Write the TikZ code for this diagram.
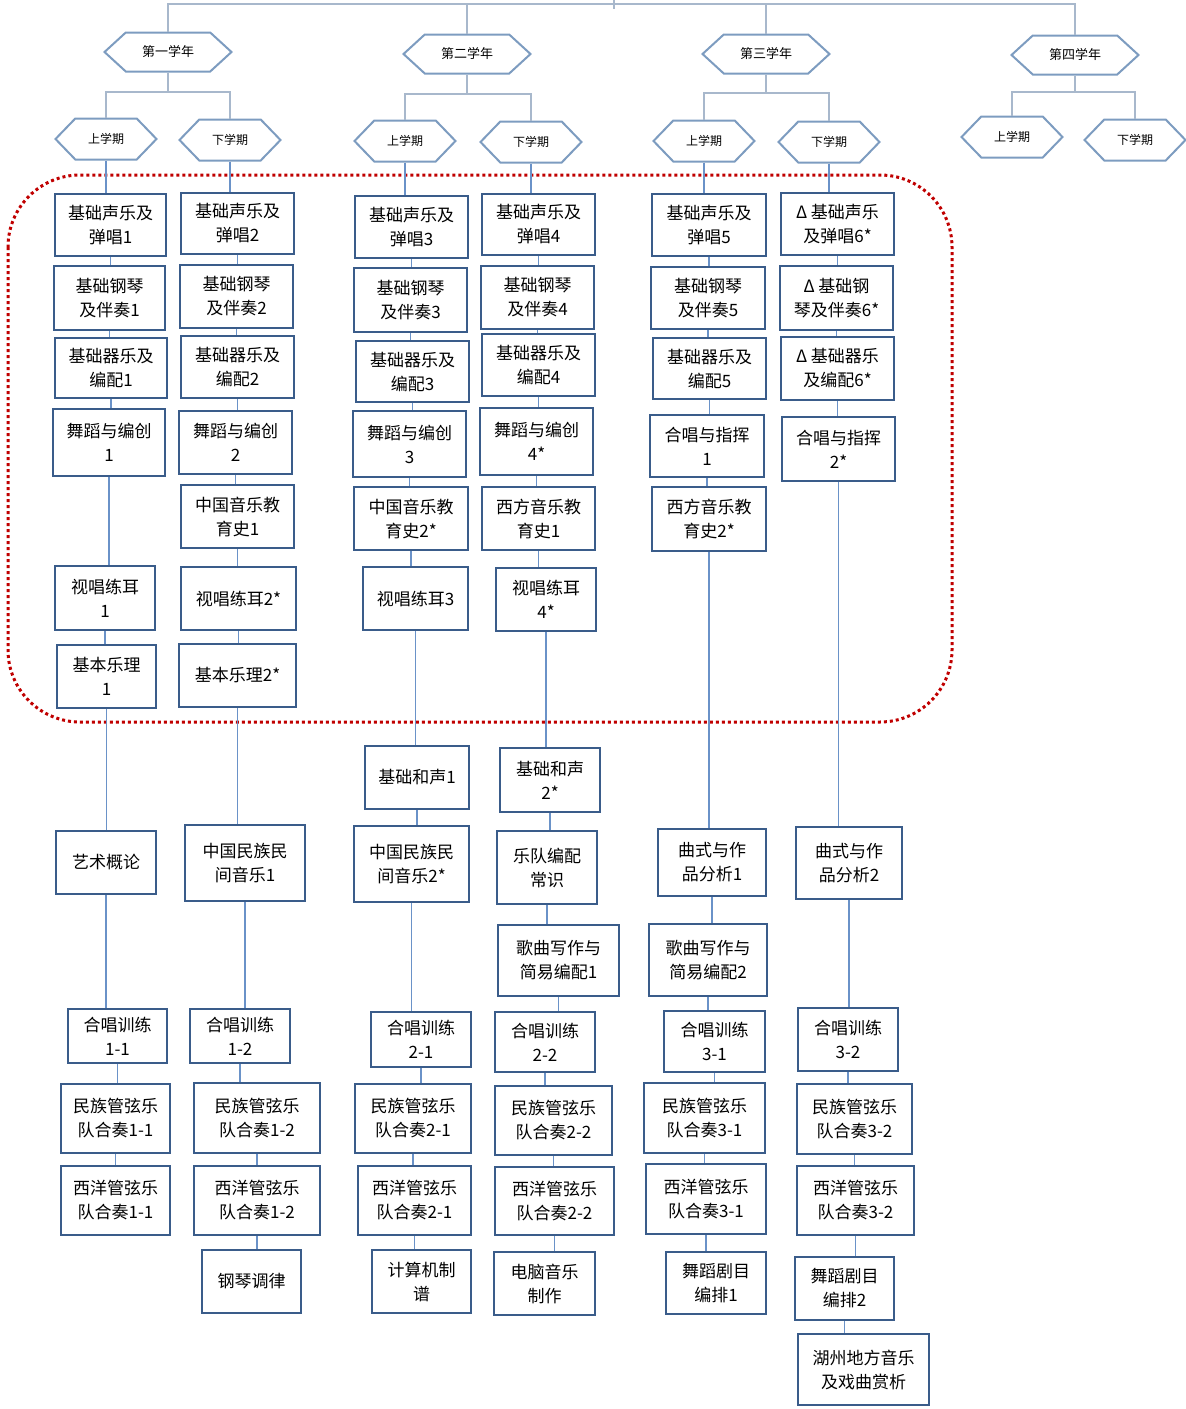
\documentclass[tikz,border=0pt]{standalone}
\usepackage{fontspec}
\setmainfont{Noto Sans CJK SC}
\usetikzlibrary{shapes.symbols}
\definecolor{boxblue}{HTML}{3A5C8A}
\definecolor{hexblue}{HTML}{7D9CC0}
\definecolor{treegray}{HTML}{A8B8CC}
\definecolor{linkblue}{HTML}{6A92C8}
\definecolor{dotred}{HTML}{C00000}
\begin{document}
\begin{tikzpicture}[x=1pt,y=-1pt]
\tikzstyle{every node}+=[inner sep=0pt]
\tikzstyle{course}=[draw=boxblue, line width=2.9pt, fill=white, align=center, font=\fontsize{17}{24}\selectfont]
\tikzstyle{yearhex}=[signal, signal to=east and west, signal pointer angle=85, draw=hexblue, line width=2pt, fill=white, minimum width=127pt, minimum height=39pt, font=\fontsize{13}{15}\selectfont]
\tikzstyle{semhex}=[signal, signal to=east and west, signal pointer angle=92, draw=hexblue, line width=2pt, fill=white, minimum width=101pt, minimum height=41pt, font=\fontsize{12}{14}\selectfont]
\tikzstyle{tree}=[draw=treegray, line width=1.6pt]
\tikzstyle{link}=[draw=linkblue, line width=1.3pt]
\tikzset{wh/.style 2 args={minimum width=#1pt, minimum height=#2pt}}
\useasboundingbox (0,0) rectangle (1186,1409);
\draw [dotred, line width=3pt, dash pattern=on 3pt off 3pt, rounded corners=72pt] (8,175) rectangle (952,722);
\draw (168,52) node[yearhex] (y1) {第一学年};
\draw (467,54) node[yearhex] (y2) {第二学年};
\draw (766,54) node[yearhex] (y3) {第三学年};
\draw (1075,55) node[yearhex] (y4) {第四学年};
\draw (106,139) node[semhex] (s11) {上学期};
\draw (230,140) node[semhex] (s12) {下学期};
\draw (405,141) node[semhex] (s21) {上学期};
\draw (531,142) node[semhex] (s22) {下学期};
\draw (704,141) node[semhex] (s31) {上学期};
\draw (829,142) node[semhex] (s32) {下学期};
\draw (1012,137) node[semhex] (s41) {上学期};
\draw (1135,140) node[semhex] (s42) {下学期};
\coordinate (root) at (614,0);
\coordinate (top) at (614,4);
\coordinate (j1) at (168,92);
\coordinate (j2) at (467,94);
\coordinate (j3) at (766,93);
\coordinate (j4) at (1075,92);
\draw [tree] (root) -- ++(0,9);
\draw [tree] (y1.north) |- (top) -| (y4.north);
\draw [tree] (top) -| (y2.north);
\draw [tree] (top) -| (y3.north);
\draw [tree] (y1.south) -- (j1);
\draw [tree] (y2.south) -- (j2);
\draw [tree] (y3.south) -- (j3);
\draw [tree] (y4.south) -- (j4);
\draw [tree] (s11.north) |- (j1) -| (s12.north);
\draw [tree] (s21.north) |- (j2) -| (s22.north);
\draw [tree] (s31.north) |- (j3) -| (s32.north);
\draw [tree] (s41.north) |- (j4) -| (s42.north);
\draw (110.5,225) node[course, wh={111}{62}] (c1a) {基础声乐及\\弹唱1};
\draw (109.5,298) node[course, wh={111}{64}] (c1b) {基础钢琴\\及伴奏1};
\draw (111,368) node[course, wh={112}{60}] (c1c) {基础器乐及\\编配1};
\draw (109,442.5) node[course, wh={112}{67}] (c1d) {舞蹈与编创\\1};
\draw (105,598) node[course, wh={100}{64}] (c1e) {视唱练耳\\1};
\draw (106.5,676.5) node[course, wh={99}{63}] (c1f) {基本乐理\\1};
\draw (106,862.5) node[course, wh={100}{63}] (c1g) {艺术概论};
\draw (117.5,1036) node[course, wh={99}{54}] (c1h) {合唱训练\\1-1};
\draw (115.5,1118.5) node[course, wh={109}{69}] (c1i) {民族管弦乐\\队合奏1-1};
\draw (115.5,1200.5) node[course, wh={109}{69}] (c1j) {西洋管弦乐\\队合奏1-1};
\draw (237.5,223.5) node[course, wh={113}{61}] (c2a) {基础声乐及\\弹唱2};
\draw (236.5,296.5) node[course, wh={113}{63}] (c2b) {基础钢琴\\及伴奏2};
\draw (237.5,367) node[course, wh={113}{62}] (c2c) {基础器乐及\\编配2};
\draw (235.5,442.5) node[course, wh={113}{63}] (c2d) {舞蹈与编创\\2};
\draw (237.5,516.5) node[course, wh={113}{63}] (c2e) {中国音乐教\\育史1};
\draw (238.5,598.5) node[course, wh={115}{63}] (c2f) {视唱练耳2*};
\draw (237.5,675.5) node[course, wh={117}{63}] (c2g) {基本乐理2*};
\draw (245,863) node[course, wh={120}{76}] (c2h) {中国民族民\\间音乐1};
\draw (240,1036) node[course, wh={100}{54}] (c2i) {合唱训练\\1-2};
\draw (257,1118) node[course, wh={126}{70}] (c2j) {民族管弦乐\\队合奏1-2};
\draw (257,1200.5) node[course, wh={126}{69}] (c2k) {西洋管弦乐\\队合奏1-2};
\draw (251.5,1281.5) node[course, wh={99}{63}] (c2l) {钢琴调律};
\draw (411.5,227) node[course, wh={113}{62}] (c3a) {基础声乐及\\弹唱3};
\draw (410.5,300) node[course, wh={113}{64}] (c3b) {基础钢琴\\及伴奏3};
\draw (412.5,371.5) node[course, wh={113}{61}] (c3c) {基础器乐及\\编配3};
\draw (409.5,444) node[course, wh={113}{66}] (c3d) {舞蹈与编创\\3};
\draw (411,518.5) node[course, wh={114}{63}] (c3e) {中国音乐教\\育史2*};
\draw (415.5,598.5) node[course, wh={105}{63}] (c3f) {视唱练耳3};
\draw (417,777.5) node[course, wh={104}{63}] (c3g) {基础和声1};
\draw (411.5,864) node[course, wh={115}{76}] (c3h) {中国民族民\\间音乐2*};
\draw (421,1039.5) node[course, wh={100}{55}] (c3i) {合唱训练\\2-1};
\draw (413,1118.5) node[course, wh={116}{69}] (c3j) {民族管弦乐\\队合奏2-1};
\draw (414.5,1200.5) node[course, wh={113}{69}] (c3k) {西洋管弦乐\\队合奏2-1};
\draw (421.5,1281.5) node[course, wh={99}{63}] (c3l) {计算机制\\谱};
\draw (538.5,224.5) node[course, wh={113}{61}] (c4a) {基础声乐及\\弹唱4};
\draw (537.5,297.5) node[course, wh={113}{63}] (c4b) {基础钢琴\\及伴奏4};
\draw (538.5,365) node[course, wh={113}{62}] (c4c) {基础器乐及\\编配4};
\draw (536.5,441.5) node[course, wh={113}{67}] (c4d) {舞蹈与编创\\4*};
\draw (538.5,518.5) node[course, wh={113}{63}] (c4e) {西方音乐教\\育史1};
\draw (546,599.5) node[course, wh={100}{63}] (c4f) {视唱练耳\\4*};
\draw (550,780) node[course, wh={100}{64}] (c4g) {基础和声\\2*};
\draw (547,867.5) node[course, wh={100}{73}] (c4h) {乐队编配\\常识};
\draw (558.5,960.5) node[course, wh={121}{71}] (c4i) {歌曲写作与\\简易编配1};
\draw (545,1042) node[course, wh={100}{60}] (c4j) {合唱训练\\2-2};
\draw (553.5,1120.5) node[course, wh={117}{69}] (c4k) {民族管弦乐\\队合奏2-2};
\draw (554.5,1201) node[course, wh={119}{68}] (c4l) {西洋管弦乐\\队合奏2-2};
\draw (544.5,1283.5) node[course, wh={101}{63}] (c4m) {电脑音乐\\制作};
\draw (709,225) node[course, wh={114}{62}] (c5a) {基础声乐及\\弹唱5};
\draw (708,298) node[course, wh={114}{62}] (c5b) {基础钢琴\\及伴奏5};
\draw (709.5,368.5) node[course, wh={113}{61}] (c5c) {基础器乐及\\编配5};
\draw (707,446) node[course, wh={114}{62}] (c5d) {合唱与指挥\\1};
\draw (709,519) node[course, wh={114}{64}] (c5e) {西方音乐教\\育史2*};
\draw (712,862.5) node[course, wh={108}{67}] (c5f) {曲式与作\\品分析1};
\draw (708,960) node[course, wh={118}{72}] (c5g) {歌曲写作与\\简易编配2};
\draw (714.5,1041.5) node[course, wh={101}{61}] (c5h) {合唱训练\\3-1};
\draw (704.5,1118) node[course, wh={121}{70}] (c5i) {民族管弦乐\\队合奏3-1};
\draw (706,1199) node[course, wh={120}{70}] (c5j) {西洋管弦乐\\队合奏3-1};
\draw (716,1283) node[course, wh={100}{62}] (c5k) {舞蹈剧目\\编排1};
\draw (837.5,224) node[course, wh={113}{62}] (c6a) {Δ 基础声乐\\及弹唱6*};
\draw (836.5,298) node[course, wh={113}{64}] (c6b) {Δ 基础钢\\琴及伴奏6*};
\draw (837.5,368.5) node[course, wh={113}{63}] (c6c) {Δ 基础器乐\\及编配6*};
\draw (838.5,449) node[course, wh={113}{64}] (c6d) {合唱与指挥\\2*};
\draw (849,863) node[course, wh={106}{72}] (c6e) {曲式与作\\品分析2};
\draw (848,1039.5) node[course, wh={100}{63}] (c6f) {合唱训练\\3-2};
\draw (854.5,1119) node[course, wh={115}{70}] (c6g) {民族管弦乐\\队合奏3-2};
\draw (855.5,1200.5) node[course, wh={117}{69}] (c6h) {西洋管弦乐\\队合奏3-2};
\draw (844.5,1288.5) node[course, wh={99}{63}] (c6i) {舞蹈剧目\\编排2};
\draw (863.5,1369.5) node[course, wh={131}{71}] (c6j) {湖州地方音乐\\及戏曲赏析};
\draw [link] (s11.south) -- (s11.south |- c1a.north);
\draw [link] (c1a.south) -- (c1a.south |- c1b.north);
\draw [link] (c1b.south) -- (c1b.south |- c1c.north);
\draw [link] (c1c.south) -- (c1c.south |- c1d.north);
\draw [link] (c1d.south) -- (c1d.south |- c1e.north);
\draw [link] (c1e.south) -- (c1e.south |- c1f.north);
\draw [link] (c1f.south) -- (c1f.south |- c1g.north);
\draw [link] (c1g.south) -- (c1g.south |- c1h.north);
\draw [link] (c1h.south) -- (c1h.south |- c1i.north);
\draw [link] (c1i.south) -- (c1i.south |- c1j.north);
\draw [link] (s12.south) -- (s12.south |- c2a.north);
\draw [link] (c2a.south) -- (c2a.south |- c2b.north);
\draw [link] (c2b.south) -- (c2b.south |- c2c.north);
\draw [link] (c2c.south) -- (c2c.south |- c2d.north);
\draw [link] (c2d.south) -- (c2d.south |- c2e.north);
\draw [link] (c2e.south) -- (c2e.south |- c2f.north);
\draw [link] (c2f.south) -- (c2f.south |- c2g.north);
\draw [link] (c2g.south) -- (c2g.south |- c2h.north);
\draw [link] (c2h.south) -- (c2h.south |- c2i.north);
\draw [link] (c2i.south) -- (c2i.south |- c2j.north);
\draw [link] (c2j.south) -- (c2j.south |- c2k.north);
\draw [link] (c2k.south) -- (c2k.south |- c2l.north);
\draw [link] (s21.south) -- (s21.south |- c3a.north);
\draw [link] (c3a.south) -- (c3a.south |- c3b.north);
\draw [link] (c3b.south) -- (c3b.south |- c3c.north);
\draw [link] (c3c.south) -- (c3c.south |- c3d.north);
\draw [link] (c3d.south) -- (c3d.south |- c3e.north);
\draw [link] (c3e.south) -- (c3e.south |- c3f.north);
\draw [link] (c3f.south) -- (c3f.south |- c3g.north);
\draw [link] (c3g.south) -- (c3g.south |- c3h.north);
\draw [link] (c3h.south) -- (c3h.south |- c3i.north);
\draw [link] (c3i.south) -- (c3i.south |- c3j.north);
\draw [link] (c3j.south) -- (c3j.south |- c3k.north);
\draw [link] (c3k.south) -- (c3k.south |- c3l.north);
\draw [link] (s22.south) -- (s22.south |- c4a.north);
\draw [link] (c4a.south) -- (c4a.south |- c4b.north);
\draw [link] (c4b.south) -- (c4b.south |- c4c.north);
\draw [link] (c4c.south) -- (c4c.south |- c4d.north);
\draw [link] (c4d.south) -- (c4d.south |- c4e.north);
\draw [link] (c4e.south) -- (c4e.south |- c4f.north);
\draw [link] (c4f.south) -- (c4f.south |- c4g.north);
\draw [link] (c4g.south) -- (c4g.south |- c4h.north);
\draw [link] (c4h.south) -- (c4h.south |- c4i.north);
\draw [link] (c4i.south) -- (c4i.south |- c4j.north);
\draw [link] (c4j.south) -- (c4j.south |- c4k.north);
\draw [link] (c4k.south) -- (c4k.south |- c4l.north);
\draw [link] (c4l.south) -- (c4l.south |- c4m.north);
\draw [link] (s31.south) -- (s31.south |- c5a.north);
\draw [link] (c5a.south) -- (c5a.south |- c5b.north);
\draw [link] (c5b.south) -- (c5b.south |- c5c.north);
\draw [link] (c5c.south) -- (c5c.south |- c5d.north);
\draw [link] (c5d.south) -- (c5d.south |- c5e.north);
\draw [link] (c5e.south) -- (c5e.south |- c5f.north);
\draw [link] (c5f.south) -- (c5f.south |- c5g.north);
\draw [link] (c5g.south) -- (c5g.south |- c5h.north);
\draw [link] (c5h.south) -- (c5h.south |- c5i.north);
\draw [link] (c5i.south) -- (c5i.south |- c5j.north);
\draw [link] (c5j.south) -- (c5j.south |- c5k.north);
\draw [link] (s32.south) -- (s32.south |- c6a.north);
\draw [link] (c6a.south) -- (c6a.south |- c6b.north);
\draw [link] (c6b.south) -- (c6b.south |- c6c.north);
\draw [link] (c6c.south) -- (c6c.south |- c6d.north);
\draw [link] (c6d.south) -- (c6d.south |- c6e.north);
\draw [link] (c6e.south) -- (c6e.south |- c6f.north);
\draw [link] (c6f.south) -- (c6f.south |- c6g.north);
\draw [link] (c6g.south) -- (c6g.south |- c6h.north);
\draw [link] (c6h.south) -- (c6h.south |- c6i.north);
\draw [link] (c6i.south) -- (c6i.south |- c6j.north);
\end{tikzpicture}
\end{document}
